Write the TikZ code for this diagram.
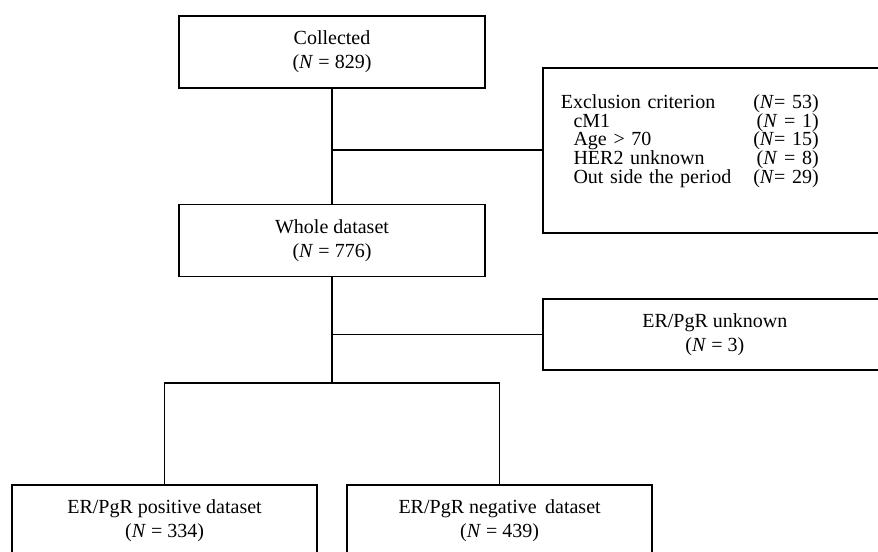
\documentclass[tikz,border=0pt]{standalone}
\usepackage{fontspec}
\setmainfont{Liberation Serif}
\usetikzlibrary{positioning,calc}

\begin{document}
\begin{tikzpicture}[x=0.75pt,y=0.75pt,line width=1.3pt,
every node/.style={font=\fontsize{15pt}{18pt}\selectfont,align=center},
block/.style={draw,inner sep=0pt,minimum width=229pt,minimum height=54pt},
side/.style={draw,anchor=north west,inner sep=0pt}]
\useasboundingbox (0,0) rectangle (878,551);
\clip (0,0) rectangle (878,551);
\node[block] (col) at (332,499) {Collected\\(\textit{N} = 829)};
\node[block,below=86pt of col] (whole) {Whole dataset\\(\textit{N} = 776)};
\node[side,inner xsep=13.5pt,text width=231pt,align=left,minimum height=123.75pt] (excl) at (542,484)
{\fontsize{15pt}{12pt}\selectfont
\begin{tabular}{@{}l@{\hspace{16.5pt}}r@{}}
Exclusion criterion & (\textit{N}= 53)\\
\hspace*{9.5pt}cM1 & (\textit{N} = 1)\\
\hspace*{9.5pt}Age > 70 & (\textit{N}= 15)\\
\hspace*{9.5pt}HER2 unknown & (\textit{N} = 8)\\
\hspace*{9.5pt}Out side the period & (\textit{N}= 29)\\[13.5pt]
\end{tabular}};
\node[side,minimum width=258pt,minimum height=53.25pt] (unk) at (542,253) {ER/PgR unknown\\(\textit{N} = 3)};
\node[block,anchor=north west] (pos) at (11,67) {ER/PgR positive dataset\\(\textit{N} = 334)};
\node[block,right=21pt of pos] (neg) {ER/PgR negative\, dataset\\(\textit{N} = 439)};
\coordinate[below=79.5pt of whole.south] (split);
\draw (col)--(whole);
\draw (excl.west)--(excl.west -| col.south);
\draw (whole)--(split);
\draw (unk.west)--(unk.west -| whole.south);
\draw (pos.north) |- (split) -| (neg.north);
\end{tikzpicture}
\end{document}
